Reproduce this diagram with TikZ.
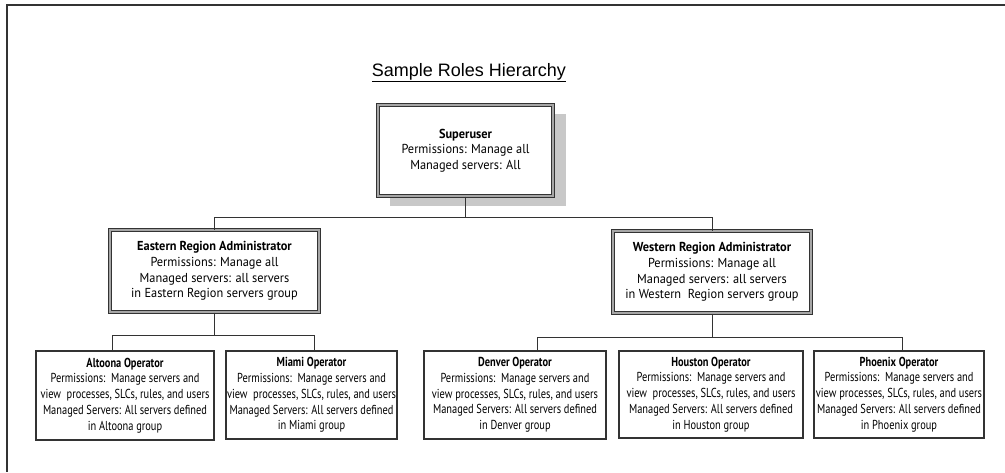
\documentclass[tikz,border=0pt]{standalone}
\usepackage{fontspec}
\setmainfont{PT Sans}
\newfontfamily\titlefont{Liberation Sans}
\newfontfamily\adminfont[FakeStretch=0.95]{PT Sans}
\newfontfamily\opfont[FakeStretch=0.8]{PT Sans}
\usetikzlibrary{backgrounds,calc}
\definecolor{linecol}{HTML}{333333}
\definecolor{shadowcol}{HTML}{C8C8C8}
\begin{document}
\begin{tikzpicture}[x=1pt,y=-1pt,
  box/.style={draw=linecol, line width=1.1pt, fill=white, align=center, inner sep=0pt,
    font=\opfont\fontsize{13}{15.8}\selectfont},
  dbox/.style={box, double=black!35, double distance=1.4pt, line width=1pt,
    font=\adminfont\fontsize{13}{15.7}\selectfont},
  link/.style={draw=linecol, line width=1pt}]
\useasboundingbox (0,0) rectangle (1005,472);
\draw[line width=1.5pt, linecol] (1005,5) -- (7,5) -- (7,472);

\node[font=\titlefont\fontsize{18}{20}\selectfont, anchor=base] (title) at (469,76) {\underline{Sample Roles Hierarchy}};

\node[dbox, minimum width=175pt, minimum height=91pt] (su) at (465.5,150.5)
  {\textbf{Superuser}\\Permissions: Manage all\\Managed servers: All};
\begin{scope}[on background layer]
\fill[white] (0,0) rectangle (1005,472);
\fill[shadowcol] ([xshift=12pt,yshift=-9pt]su.north west) rectangle ([xshift=12pt,yshift=-9pt]su.south east);
\end{scope}

\node[dbox, minimum width=209pt, minimum height=82pt] (east) at (214.5,271)
  {\textbf{Eastern Region Administrator}\\Permissions: Manage all\\Managed servers: all servers\\ in Eastern Region servers group};
\node[dbox, minimum width=198pt, minimum height=82pt] (west) at (712,272)
  {\textbf{Western Region Administrator}\\Permissions: Manage all\\Managed servers: all servers\\in Western\ \ Region servers group};

\node[box, minimum width=178pt, minimum height=89pt] (alt) at (125,395.5)
  {\textbf{Altoona Operator}\\Permissions:\ \ Manage servers and\\view\ \ processes, SLCs, rules, and users\\Managed Servers: All servers defined\\in Altoona group};
\node[box, minimum width=171pt, minimum height=88pt] (mia) at (311.5,395)
  {\textbf{Miami Operator}\\Permissions:\ \ Manage servers and\\view\ \ processes, SLCs, rules, and users\\Managed Servers: All servers defined\\in Miami group};
\node[box, minimum width=182pt, minimum height=88pt, text depth=3pt] (den) at (515,395)
  {\textbf{Denver Operator}\\Permissions:\ \ Manage servers and\\view processes, SLCs, rules, and users\\Managed Servers: All servers defined\\in Denver group};
\node[box, minimum width=184pt, minimum height=87pt] (hou) at (711,394.5)
  {\textbf{Houston Operator}\\Permissions:\ \ Manage servers and\\view\ \ processes, SLCs, rules, and users\\Managed Servers: All servers defined\\in Houston group};
\node[box, minimum width=170pt, minimum height=87pt] (pho) at (899,394.5)
  {\textbf{Phoenix Operator}\\Permissions:\ \ Manage servers and\\view processes, SLCs, rules, and users\\Managed Servers: All servers defined\\in Phoenix group};

\draw[link] (su.south) -- ++(0,21) coordinate (b1);
\draw[link] (east.north) |- (b1) -| (west.north);
\draw[link] (east.south) -- ++(0,23) coordinate (b2);
\draw[link] ([xshift=-13pt]alt.north) |- (b2) -| ([xshift=2.5pt]mia.north);
\draw[link] (west.south) -- ++(0,24) coordinate (b3);
\draw[link] ([xshift=22pt]den.north) |- (b3) -| ([xshift=3pt]pho.north);
\end{tikzpicture}
\end{document}
